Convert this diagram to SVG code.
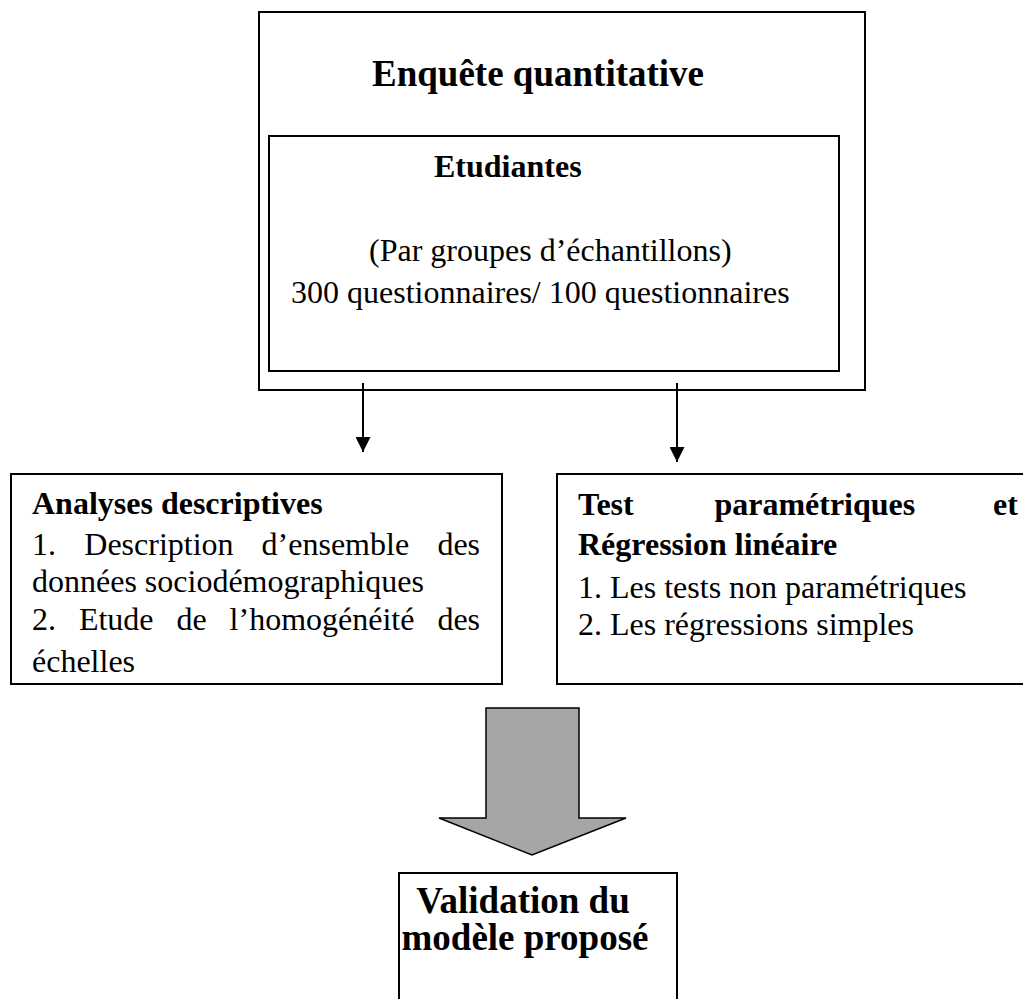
<svg xmlns="http://www.w3.org/2000/svg" width="1023" height="999" viewBox="0 0 1023 999">
<defs>
<style>
.box{fill:#fff;stroke:#000;stroke-width:2}
.t{font-family:"Liberation Serif","Times New Roman",serif;fill:#000}
.r32{font-size:32px}
.b32{font-size:32px;font-weight:bold}
.b37{font-size:37px;font-weight:bold}
.conn{stroke:#000;stroke-width:2;fill:none}
</style>
<marker id="ah" viewBox="0 0 10 10" refX="10" refY="5" markerWidth="7.5" markerHeight="7.5" markerUnits="strokeWidth" orient="auto">
<path d="M0,0 L10,5 L0,10 z" fill="#000"/>
</marker>
</defs>
<rect width="1023" height="999" fill="#fff"/>

<g id="enquete">
<rect class="box" x="259" y="12" width="606" height="378"/>
<text class="t b37" x="372" y="86">Enquête quantitative</text>
</g>

<g id="etudiantes">
<rect class="box" x="269" y="136" width="570" height="235"/>
<text class="t b32" x="434" y="177">Etudiantes</text>
<text class="t r32" x="369" y="261">(Par groupes d’échantillons)</text>
<text class="t r32" x="291" y="303">300 questionnaires/ 100 questionnaires</text>
</g>

<g id="connectors">
<line class="conn" x1="363" y1="383" x2="363" y2="452" marker-end="url(#ah)"/>
<line class="conn" x1="677" y1="383" x2="677" y2="462" marker-end="url(#ah)"/>
<path d="M486,708 L579,708 L579,818 L626,818 L532,855 L439,818 L486,818 Z" fill="#a6a6a6" stroke="#000" stroke-width="1.5"/>
</g>

<g id="analyses">
<rect class="box" x="11" y="474" width="491" height="210"/>
<text class="t b32" x="32" y="514">Analyses descriptives</text>
<text class="t r32" y="555"><tspan x="32">1.</tspan><tspan x="84.3">Description</tspan><tspan x="261.6">d’ensemble</tspan><tspan x="437.4">des</tspan></text>
<text class="t r32" x="32" y="592">données sociodémographiques</text>
<text class="t r32" y="630"><tspan x="32">2.</tspan><tspan x="78.9">Etude</tspan><tspan x="176.5">de</tspan><tspan x="229.6">l’homogénéité</tspan><tspan x="437.4">des</tspan></text>
<text class="t r32" x="32" y="672">échelles</text>
</g>

<g id="tests">
<rect class="box" x="557" y="474" width="480" height="210"/>
<text class="t b32" y="515"><tspan x="578">Test</tspan><tspan x="714.4">paramétriques</tspan><tspan x="993">et</tspan></text>
<text class="t b32" x="578" y="555">Régression linéaire</text>
<text class="t r32" x="578" y="598">1. Les tests non paramétriques</text>
<text class="t r32" x="578" y="635">2. Les régressions simples</text>
</g>

<g id="validation">
<rect class="box" x="399" y="873" width="278" height="140"/>
<text class="t b37" x="523" y="913" text-anchor="middle">Validation du</text>
<text class="t b37" x="525" y="950" text-anchor="middle">modèle proposé</text>
</g>
</svg>
